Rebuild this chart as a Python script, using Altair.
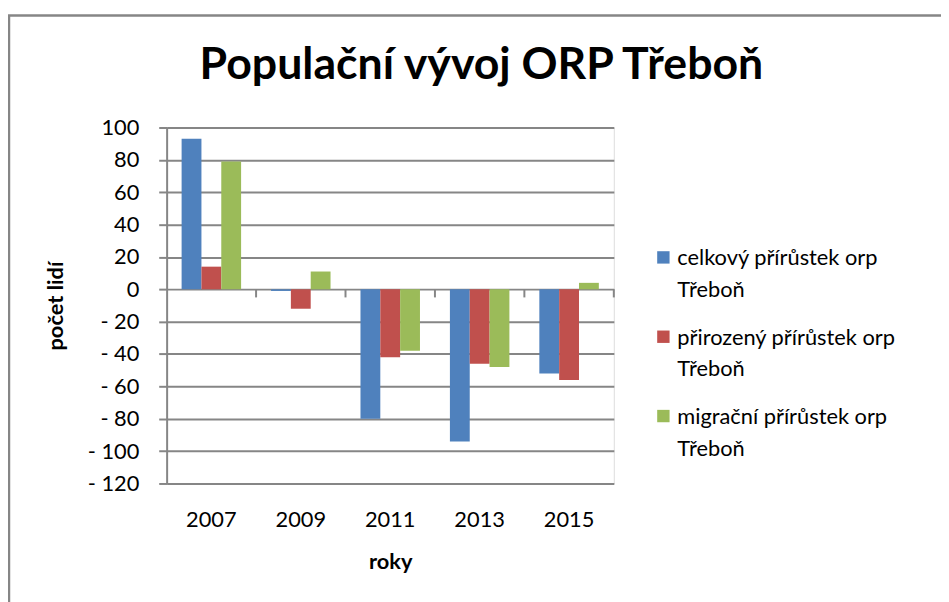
import altair as alt
import pandas as pd

# ---- data ----
years = ["2007", "2009", "2011", "2013", "2015"]
series = [
    "celkový přírůstek orp Třeboň",
    "přirozený přírůstek orp Třeboň",
    "migrační přírůstek orp Třeboň",
]
legend_labels = [
    "celkový přírůstek orp\nTřeboň",
    "přirozený přírůstek orp\nTřeboň",
    "migrační přírůstek orp\nTřeboň",
]
celkovy = [93, -1, -80, -94, -52]
prirozeny = [14, -12, -42, -46, -56]
migracni = [79, 11, -38, -48, 4]
colors = ["#4F81BD", "#C0504D", "#9BBB59"]
y_ticks = [-120, -100, -80, -60, -40, -20, 0, 20, 40, 60, 80, 100]

rows = []
for s, vals in zip(series, [celkovy, prirozeny, migracni]):
    for yr, v in zip(years, vals):
        rows.append({"rok": yr, "řada": s, "hodnota": v})
df = pd.DataFrame(rows)
tick_df = pd.DataFrame({"rok": years})
leg_df = pd.DataFrame({"řada": series, "popisek": legend_labels})

GRID = "#868686"
FONT = "Lato"
color_scale = alt.Scale(domain=series, range=colors)

x_enc = alt.X(
    "rok:N",
    sort=years,
    scale=alt.Scale(paddingInner=0, paddingOuter=0),
    axis=alt.Axis(
        title="roky",
        labelAngle=0,
        domain=False,
        ticks=False,
        tickSize=0,
        grid=False,
        labelFont=FONT,
        labelFontSize=22,
        labelColor="black",
        labelBaseline="alphabetic",
        labelPadding=43,
        titleFont=FONT,
        titleFontSize=22,
        titleFontWeight="bold",
        titleColor="black",
        titleBaseline="alphabetic",
        titleY=86,
    ),
)

y_enc = alt.Y(
    "hodnota:Q",
    scale=alt.Scale(domain=[-120, 100], nice=False, zero=False),
    axis=alt.Axis(
        values=y_ticks,
        tickCount=len(y_ticks),
        title="počet lidí",
        labelExpr="datum.value < 0 ? '- ' + abs(datum.value) : datum.label",
        labelOverlap=False,
        labelFlush=False,
        labelFont=FONT,
        labelFontSize=22,
        labelColor="black",
        labelPadding=20,
        tickSize=8,
        tickColor=GRID,
        tickWidth=2,
        domainColor=GRID,
        domainWidth=2,
        grid=True,
        gridColor=GRID,
        gridWidth=2,
        titleFont=FONT,
        titleFontSize=22,
        titleFontWeight="bold",
        titleColor="black",
        titleBaseline="middle",
        titleX=-112,
        titleY=179.5,
    ),
)

bars = alt.Chart(df).mark_bar().encode(
    x=x_enc,
    xOffset=alt.XOffset(
        "řada:N", sort=series, scale=alt.Scale(paddingInner=0, paddingOuter=0.755)
    ),
    y=y_enc,
    color=alt.Color("řada:N", scale=color_scale, legend=None),
)

cat_ticks = alt.Chart(tick_df).mark_rule(color=GRID, strokeWidth=2).encode(
    x=alt.X("rok:N", sort=years, bandPosition=1),
    y=alt.datum(0),
    y2=alt.datum(-5),
)

leg_y = alt.Y(
    "řada:N",
    sort=series,
    scale=alt.Scale(domain=series, range=[131, 291], padding=0),
    axis=None,
)
leg_squares = alt.Chart(leg_df).mark_square(size=156, opacity=1).encode(
    x=alt.value(501),
    y=leg_y,
    color=alt.Color("řada:N", scale=color_scale, legend=None),
)
leg_text = alt.Chart(leg_df).mark_text(
    align="left",
    baseline="alphabetic",
    dy=8,
    font=FONT,
    fontSize=22,
    color="black",
    lineBreak="\n",
    lineHeight=32,
).encode(x=alt.value(515), y=leg_y, text="popisek:N")

border = alt.Chart(pd.DataFrame({"b": [0]})).mark_rect(
    fillOpacity=0, stroke=GRID, strokeWidth=2.5
).encode(
    x=alt.value(-159), x2=alt.value(900), y=alt.value(-113), y2=alt.value(600)
)

main = alt.layer(bars, cat_ticks)
legend = alt.layer(leg_squares, leg_text)

chart = (
    alt.layer(border, main, legend)
    .resolve_scale(y="independent")
    .properties(
        width=451,
        height=359,
        autosize="none",
        padding={"left": 160, "top": 118, "right": 330, "bottom": 117},
        title=alt.TitleParams(
            "Populační vývoj ORP Třeboň",
            font=FONT,
            fontSize=45,
            fontWeight="bold",
            color="black",
            anchor="middle",
            frame="group",
            baseline="alphabetic",
            dx=92,
            dy=110,
            offset=0,
        ),
    )
    .configure_view(stroke="transparent")
    .configure(background="white")
)

chart.save("out.html", embed_options={"renderer": "svg", "actions": False})
